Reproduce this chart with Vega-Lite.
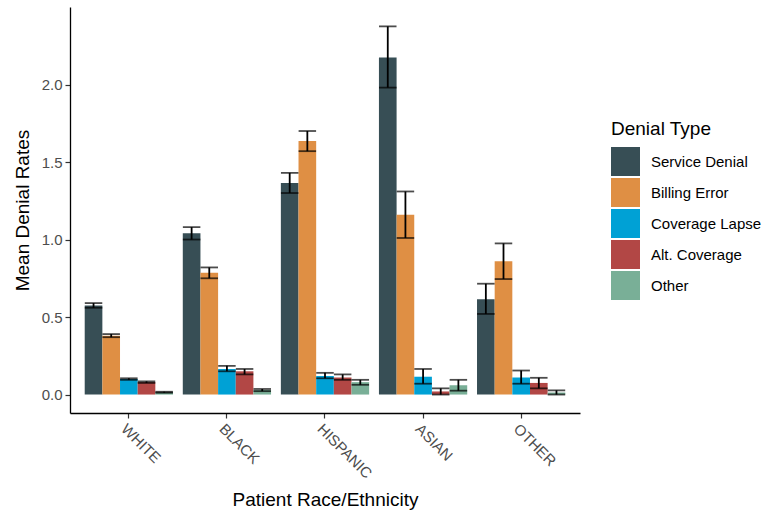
{
  "$schema": "https://vega.github.io/schema/vega-lite/v6.json",
  "width": 510,
  "height": 406,
  "autosize": "none",
  "padding": {"left": 70, "top": 7, "right": 189, "bottom": 97},
  "background": "white",
  "config": {
    "font": "Liberation Sans",
    "view": {"stroke": null},
    "axis": {"grid": false, "domainColor": "black", "domainWidth": 1.3, "tickColor": "#333333", "tickWidth": 1.2, "tickSize": 5, "labelColor": "#4d4d4d", "labelFontSize": 15, "titleFontSize": 19, "titleFontWeight": "normal", "titleColor": "black"}
  },
  "data": {
    "values": [
      {"race": "WHITE", "type": "Service Denial", "mean": 0.575, "lo": 0.56, "hi": 0.59},
      {"race": "WHITE", "type": "Billing Error", "mean": 0.38, "lo": 0.37, "hi": 0.39},
      {"race": "WHITE", "type": "Coverage Lapse", "mean": 0.1, "lo": 0.095, "hi": 0.105},
      {"race": "WHITE", "type": "Alt. Coverage", "mean": 0.08, "lo": 0.075, "hi": 0.085},
      {"race": "WHITE", "type": "Other", "mean": 0.015, "lo": 0.012, "hi": 0.018},
      {"race": "BLACK", "type": "Service Denial", "mean": 1.04, "lo": 1.0, "hi": 1.08},
      {"race": "BLACK", "type": "Billing Error", "mean": 0.785, "lo": 0.75, "hi": 0.82},
      {"race": "BLACK", "type": "Coverage Lapse", "mean": 0.165, "lo": 0.15, "hi": 0.185},
      {"race": "BLACK", "type": "Alt. Coverage", "mean": 0.15, "lo": 0.13, "hi": 0.165},
      {"race": "BLACK", "type": "Other", "mean": 0.03, "lo": 0.022, "hi": 0.036},
      {"race": "HISPANIC", "type": "Service Denial", "mean": 1.365, "lo": 1.3, "hi": 1.43},
      {"race": "HISPANIC", "type": "Billing Error", "mean": 1.635, "lo": 1.57, "hi": 1.7},
      {"race": "HISPANIC", "type": "Coverage Lapse", "mean": 0.12, "lo": 0.105, "hi": 0.14},
      {"race": "HISPANIC", "type": "Alt. Coverage", "mean": 0.11, "lo": 0.095, "hi": 0.13},
      {"race": "HISPANIC", "type": "Other", "mean": 0.08, "lo": 0.063, "hi": 0.095},
      {"race": "ASIAN", "type": "Service Denial", "mean": 2.175, "lo": 1.98, "hi": 2.375},
      {"race": "ASIAN", "type": "Billing Error", "mean": 1.16, "lo": 1.01, "hi": 1.31},
      {"race": "ASIAN", "type": "Coverage Lapse", "mean": 0.115, "lo": 0.07, "hi": 0.165},
      {"race": "ASIAN", "type": "Alt. Coverage", "mean": 0.02, "lo": 0.0, "hi": 0.04},
      {"race": "ASIAN", "type": "Other", "mean": 0.06, "lo": 0.025, "hi": 0.095},
      {"race": "OTHER", "type": "Service Denial", "mean": 0.615, "lo": 0.52, "hi": 0.715},
      {"race": "OTHER", "type": "Billing Error", "mean": 0.86, "lo": 0.745, "hi": 0.975},
      {"race": "OTHER", "type": "Coverage Lapse", "mean": 0.11, "lo": 0.07, "hi": 0.155},
      {"race": "OTHER", "type": "Alt. Coverage", "mean": 0.075, "lo": 0.04, "hi": 0.108},
      {"race": "OTHER", "type": "Other", "mean": 0.013, "lo": 0.0, "hi": 0.027}
    ]
  },
  "encoding": {
    "x": {
      "field": "race", "type": "nominal",
      "sort": ["WHITE", "BLACK", "HISPANIC", "ASIAN", "OTHER"],
      "scale": {"paddingInner": 0.1, "paddingOuter": 0.15},
      "axis": {"title": "Patient Race/Ethnicity", "labelAngle": 45, "labelAlign": "left", "labelBaseline": "top", "labelPadding": 3, "titlePadding": 10}
    },
    "xOffset": {
      "field": "type", "type": "nominal",
      "sort": ["Service Denial", "Billing Error", "Coverage Lapse", "Alt. Coverage", "Other"],
      "scale": {"paddingInner": 0, "paddingOuter": 0}
    }
  },
  "layer": [
    {
      "mark": {"type": "bar"},
      "encoding": {
        "y": {
          "field": "mean", "type": "quantitative",
          "scale": {"domain": [-0.119, 2.5], "nice": false, "zero": false},
          "axis": {"title": "Mean Denial Rates", "values": [0, 0.5, 1, 1.5, 2], "format": ".1f", "labelPadding": 3, "titlePadding": 9}
        },
        "y2": {"datum": 0},
        "color": {
          "field": "type", "type": "nominal",
          "scale": {
            "domain": ["Service Denial", "Billing Error", "Coverage Lapse", "Alt. Coverage", "Other"],
            "range": ["#374E55", "#DF8F44", "#00A1D5", "#B24745", "#79AF97"]
          },
          "legend": {
            "title": "Denial Type", "orient": "none", "legendX": 541, "legendY": 113,
            "titleFontSize": 19, "titleFontWeight": "normal", "titleColor": "black", "titlePadding": 8,
            "symbolType": "square", "symbolSize": 841, "symbolStrokeWidth": 0, "symbolOpacity": 1,
            "labelFontSize": 15, "labelColor": "black", "labelOffset": 11, "rowPadding": 2
          }
        }
      }
    },
    {
      "mark": {"type": "rule", "color": "black", "strokeWidth": 1.8},
      "encoding": {
        "y": {"field": "lo", "type": "quantitative"},
        "y2": {"field": "hi"}
      }
    },
    {
      "mark": {"type": "tick", "color": "black", "thickness": 1.8, "size": 17.5},
      "encoding": {"y": {"field": "lo", "type": "quantitative"}}
    },
    {
      "mark": {"type": "tick", "color": "black", "thickness": 1.8, "size": 17.5},
      "encoding": {"y": {"field": "hi", "type": "quantitative"}}
    }
  ]
}
